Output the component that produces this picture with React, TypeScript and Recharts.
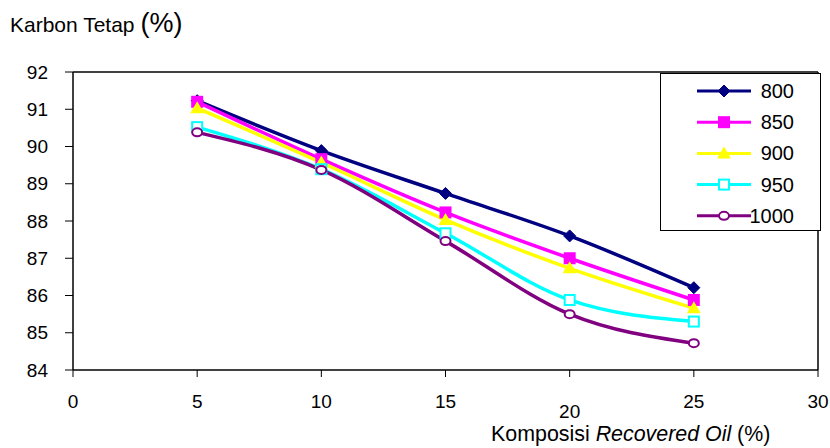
import React from 'react';
import { LineChart, Line, XAxis, YAxis, ReferenceLine } from 'recharts';

const xValues = [5, 10, 15, 20, 25];
const s800 = [91.23, 89.89, 88.74, 87.6, 86.21];
const s850 = [91.2, 89.66, 88.23, 87.0, 85.88];
const s900 = [91.03, 89.57, 88.03, 86.73, 85.66];
const s950 = [90.52, 89.39, 87.67, 85.88, 85.3];
const s1000 = [90.38, 89.37, 87.46, 85.5, 84.72];
const seriesNames = ['800', '850', '900', '950', '1000'];
const xTicks = [0, 5, 10, 15, 20, 25, 30];
const yTicks = [84, 85, 86, 87, 88, 89, 90, 91, 92];
const yTitle = 'Karbon Tetap';
const xTitleA = 'Komposisi ';
const xTitleB = 'Recovered Oil';
const unit = '(%)';

const seriesValues = [s800, s850, s900, s950, s1000];
const colors = ['#000080', '#FF00FF', '#FFFF00', '#00FFFF', '#800080'];
const shapes = ['diamond', 'square', 'triangle', 'hollowSquare', 'hollowCircle'];

const data = xValues.map((x, i) => {
  const row: any = { x };
  seriesNames.forEach((n, k) => {
    row['s' + n] = seriesValues[k][i];
  });
  return row;
});

const FONT = '"Liberation Sans", Arial, sans-serif';

function Marker({ shape, color, cx, cy }: { shape: string; color: string; cx: number; cy: number }) {
  if (shape === 'diamond') {
    return <polygon points={`${cx},${cy - 6} ${cx + 6},${cy} ${cx},${cy + 6} ${cx - 6},${cy}`} fill={color} stroke={color} strokeWidth={1} />;
  }
  if (shape === 'square') {
    return <rect x={cx - 6} y={cy - 6} width={12} height={12} fill={color} />;
  }
  if (shape === 'triangle') {
    return <polygon points={`${cx},${cy - 7} ${cx + 7},${cy + 5} ${cx - 7},${cy + 5}`} fill={color} />;
  }
  if (shape === 'hollowSquare') {
    return <rect x={cx - 5} y={cy - 5} width={10} height={10} fill="#fff" stroke={color} strokeWidth={2} />;
  }
  return <ellipse cx={cx} cy={cy} rx={5} ry={4} fill="#fff" stroke={color} strokeWidth={2} />;
}

const makeDot = (k: number) => (props: any) => {
  const { cx, cy, index } = props;
  if (cx == null || cy == null) return <g key={`d${k}-${index}`} />;
  return (
    <g key={`d${k}-${index}`}>
      <Marker shape={shapes[k]} color={colors[k]} cx={cx} cy={cy} />
    </g>
  );
};

const XTick = (props: any) => {
  const { x, y, payload } = props;
  const extra = payload.value === 20 ? 10 : 0;
  return (
    <text x={x} y={y + extra} dy="0.71em" textAnchor="middle" fontSize={19} fontFamily={FONT} fill="#000">
      {payload.value}
    </text>
  );
};

const LegendBox = () => (
  <div
    style={{
      position: 'absolute',
      left: 660,
      top: 73,
      width: 161,
      height: 158,
      background: '#fff',
      border: '1px solid #000',
      boxSizing: 'border-box',
    }}
  >
    <svg width={159} height={156} style={{ display: 'block' }}>
      {seriesNames.map((n, k) => {
        const cy = 17 + k * 31.2;
        return (
          <g key={n}>
            <line x1={36} x2={90} y1={cy} y2={cy} stroke={colors[k]} strokeWidth={3} />
            <Marker shape={shapes[k]} color={colors[k]} cx={63} cy={cy} />
            <text x={133} y={cy} dy="0.35em" textAnchor="end" fontSize={20} fontFamily={FONT} fill="#000">
              {n}
            </text>
          </g>
        );
      })}
    </svg>
  </div>
);

export default function App() {
  return (
    <div style={{ position: 'absolute', left: 0, top: 0, width: 830, height: 448, background: '#fff' }}>
      <LineChart width={830} height={448} data={data} margin={{ top: 72, right: 12, left: 0, bottom: 0 }}>
        <XAxis
          dataKey="x"
          type="number"
          domain={[0, 30]}
          ticks={xTicks}
          interval={0}
          height={78}
          tickSize={7}
          tickMargin={18}
          axisLine={{ stroke: '#000', strokeWidth: 1.5 }}
          tickLine={{ stroke: '#000' }}
          tick={<XTick />}
        />
        <YAxis
          type="number"
          domain={[84, 92]}
          ticks={yTicks}
          interval={0}
          width={73}
          tickSize={8}
          tickMargin={17}
          axisLine={{ stroke: '#000', strokeWidth: 1.5 }}
          tickLine={{ stroke: '#000' }}
          tick={{ fontSize: 19, fontFamily: FONT, fill: '#000' }}
        />
        <ReferenceLine y={92} stroke="#000" strokeWidth={1.5} />
        <ReferenceLine x={30} stroke="#000" strokeWidth={1.5} />
        {seriesNames.map((n, k) => (
          <Line
            key={n}
            type="monotone"
            dataKey={'s' + n}
            name={n}
            stroke={colors[k]}
            strokeWidth={3.5}
            dot={makeDot(k)}
            activeDot={false}
            isAnimationActive={false}
          />
        ))}
      </LineChart>
      <LegendBox />
      <svg width={830} height={448} style={{ position: 'absolute', left: 0, top: 0, pointerEvents: 'none' }}>
        <text x={10} y={32} fontSize={21} fontFamily={FONT} fill="#000">
          {yTitle + ' '}
          <tspan fontSize={27}>{unit}</tspan>
        </text>
        <text x={491} y={441} fontSize={21.4} fontFamily={FONT} fill="#000">
          {xTitleA}
          <tspan fontStyle="italic">{xTitleB}</tspan>
          {' ' + unit}
        </text>
      </svg>
    </div>
  );
}
